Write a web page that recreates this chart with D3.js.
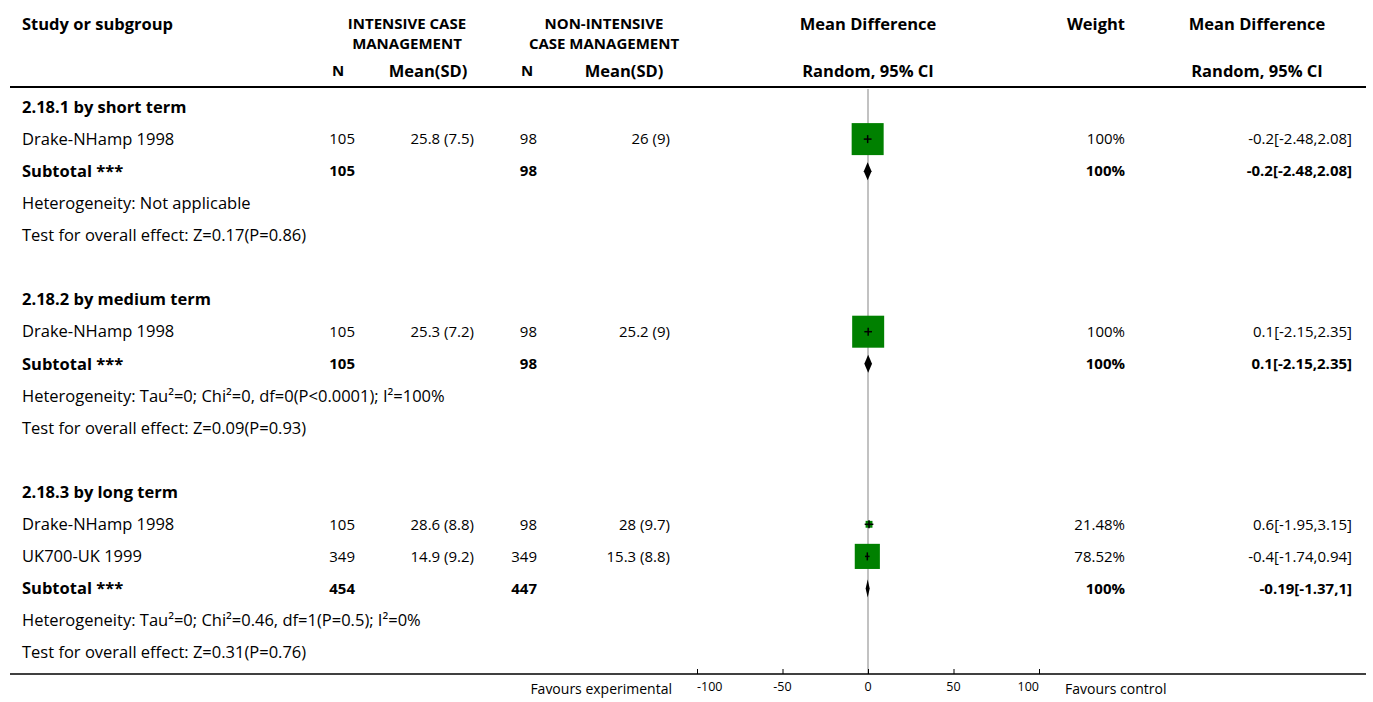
<!DOCTYPE html>
<html><head><meta charset="utf-8">
<script src="https://cdn.jsdelivr.net/npm/d3@7"></script>
<style>
html,body{margin:0;padding:0;background:#fff;}
text{font-family:"Open Sans",Lato,sans-serif;font-size:15px;fill:#000;}
.b{font-weight:bold;}
.l{font-size:16.5px;}
.f{font-size:14px;}
</style></head><body>
<svg id="c" width="1373" height="702"></svg>
<script>
// ---- data ----
const groupTitles = ["2.18.1 by short term", "2.18.2 by medium term", "2.18.3 by long term"];
const studyNames = ["Drake-NHamp 1998", "Drake-NHamp 1998", "Drake-NHamp 1998", "UK700-UK 1999"];
const studyGroup = [0, 1, 2, 2];
const expN = [105, 105, 105, 349];
const expMean = [25.8, 25.3, 28.6, 14.9];
const expSD = [7.5, 7.2, 8.8, 9.2];
const ctlN = [98, 98, 98, 349];
const ctlMean = [26, 25.2, 28, 15.3];
const ctlSD = [9, 9, 9.7, 8.8];
const studyMD = [-0.2, 0.1, 0.6, -0.4];
const studyLo = [-2.48, -2.15, -1.95, -1.74];
const studyHi = [2.08, 2.35, 3.15, 0.94];
const studyWeight = [100, 100, 21.48, 78.52];
const subN1 = [105, 105, 454];
const subN2 = [98, 98, 447];
const subMD = [-0.2, 0.1, -0.19];
const subLo = [-2.48, -2.15, -1.37];
const subHi = [2.08, 2.35, 1];
const subWeight = [100, 100, 100];
const heteroText = ["Heterogeneity: Not applicable",
  "Heterogeneity: Tau\u00b2=0; Chi\u00b2=0, df=0(P<0.0001); I\u00b2=100%",
  "Heterogeneity: Tau\u00b2=0; Chi\u00b2=0.46, df=1(P=0.5); I\u00b2=0%"];
const overallText = ["Test for overall effect: Z=0.17(P=0.86)",
  "Test for overall effect: Z=0.09(P=0.93)",
  "Test for overall effect: Z=0.31(P=0.76)"];
const axisTicks = [-100, -50, 0, 50, 100];

// ---- layout ----
const svg = d3.select("#c");
const x = d3.scaleLinear().domain([-100, 100]).range([697, 1039]);
const size = d3.scaleLinear().domain([0, 100]).range([0, 32]);
const y0 = 107, step = 32.1;
const col = {name: 22, n1: 355, m1: 474, n2: 537, m2: 670, w: 1125, md: 1352};

const rows = [];
groupTitles.forEach((g, gi) => {
  rows.push({type: "title", text: g});
  studyNames.forEach((s, i) => { if (studyGroup[i] === gi) rows.push({type: "study", i}); });
  rows.push({type: "sub", gi});
  rows.push({type: "het", gi});
  rows.push({type: "test", gi});
  if (gi < groupTitles.length - 1) rows.push({type: "blank"});
});
const yOf = k => y0 + k * step;
const axisY = 674;

const hdr = svg.append("g");
function t(g, xx, yy, s, anchor, bold, cls) {
  const e = g.append("text").attr("x", xx).attr("y", yy).attr("dy", "0.35em")
    .attr("text-anchor", anchor || "start").classed("b", !!bold).text(s);
  if (cls) e.classed(cls, true);
  return e;
}
t(hdr, 22, 24, "Study or subgroup", "start", true, "l");
t(hdr, 407, 24, "INTENSIVE CASE", "middle", true);
t(hdr, 407, 44, "MANAGEMENT", "middle", true);
t(hdr, 604, 24, "NON-INTENSIVE", "middle", true);
t(hdr, 604, 44, "CASE MANAGEMENT", "middle", true);
t(hdr, 868, 24, "Mean Difference", "middle", true, "l");
t(hdr, 1125, 24, "Weight", "end", true, "l");
t(hdr, 1257, 24, "Mean Difference", "middle", true, "l");
t(hdr, 338, 71, "N", "middle", true);
t(hdr, 428, 71, "Mean(SD)", "middle", true, "l");
t(hdr, 527, 71, "N", "middle", true);
t(hdr, 624, 71, "Mean(SD)", "middle", true, "l");
t(hdr, 868, 71, "Random, 95% CI", "middle", true, "l");
t(hdr, 1257, 71, "Random, 95% CI", "middle", true, "l");
svg.append("line").attr("x1", 10).attr("x2", 1366).attr("y1", 87).attr("y2", 87)
  .attr("stroke", "#000").attr("stroke-width", 2);

svg.append("line").attr("x1", x(0)).attr("x2", x(0)).attr("y1", 89).attr("y2", axisY)
  .attr("stroke", "#999").attr("stroke-width", 1.2);

const body = svg.append("g");
rows.forEach((r, k) => {
  const yy = yOf(k);
  if (r.type === "title") t(body, col.name, yy, r.text, "start", true, "l");
  if (r.type === "study") {
    const i = r.i;
    t(body, col.name, yy, studyNames[i], "start", false, "l");
    t(body, col.n1, yy, String(expN[i]), "end");
    t(body, col.m1, yy, `${expMean[i]} (${expSD[i]})`, "end");
    t(body, col.n2, yy, String(ctlN[i]), "end");
    t(body, col.m2, yy, `${ctlMean[i]} (${ctlSD[i]})`, "end");
    t(body, col.w, yy, `${studyWeight[i]}%`, "end");
    t(body, col.md, yy, `${studyMD[i]}[${studyLo[i]},${studyHi[i]}]`, "end");
    const s = size(studyWeight[i]);
    body.append("rect").attr("x", x(studyMD[i]) - s / 2).attr("y", yy - s / 2)
      .attr("width", s).attr("height", s).attr("fill", "#008000");
    body.append("line").attr("x1", x(studyLo[i])).attr("x2", x(studyHi[i]))
      .attr("y1", yy).attr("y2", yy).attr("stroke", "#000").attr("stroke-width", 1.5);
    body.append("line").attr("x1", x(studyMD[i])).attr("x2", x(studyMD[i]))
      .attr("y1", yy - 4).attr("y2", yy + 4).attr("stroke", "#000").attr("stroke-width", 1.5);
  }
  if (r.type === "sub") {
    const g = r.gi;
    t(body, col.name, yy, "Subtotal ***", "start", true, "l");
    t(body, col.n1, yy, String(subN1[g]), "end", true);
    t(body, col.n2, yy, String(subN2[g]), "end", true);
    t(body, col.w, yy, `${subWeight[g]}%`, "end", true);
    t(body, col.md, yy, `${subMD[g]}[${subLo[g]},${subHi[g]}]`, "end", true);
    const h = 9;
    body.append("path").attr("d", `M${x(subLo[g])},${yy}L${x(subMD[g])},${yy - h}L${x(subHi[g])},${yy}L${x(subMD[g])},${yy + h}Z`)
      .attr("fill", "#000");
  }
  if (r.type === "het") t(body, col.name, yy, heteroText[r.gi], "start", false, "l");
  if (r.type === "test") t(body, col.name, yy, overallText[r.gi], "start", false, "l");
});

svg.append("line").attr("x1", 10).attr("x2", 1366).attr("y1", axisY).attr("y2", axisY)
  .attr("stroke", "#000").attr("stroke-width", 1.5);
const ax = svg.append("g").attr("transform", `translate(0,${axisY})`)
  .call(d3.axisTop(x).tickValues(axisTicks).tickSize(5).tickFormat(""));
ax.select(".domain").remove();
ax.selectAll("line").attr("stroke", "#000");
axisTicks.forEach((v, i) => {
  const anchor = i === 0 ? "start" : (i === axisTicks.length - 1 ? "end" : "middle");
  svg.append("text").attr("x", x(v)).attr("y", 687).attr("dy", "0.35em")
    .attr("text-anchor", anchor).style("font-size", "12.5px").text(v);
});
t(svg, 672, 689, "Favours experimental", "end", false, "f");
t(svg, 1065, 689, "Favours control", "start", false, "f");
</script></body></html>
